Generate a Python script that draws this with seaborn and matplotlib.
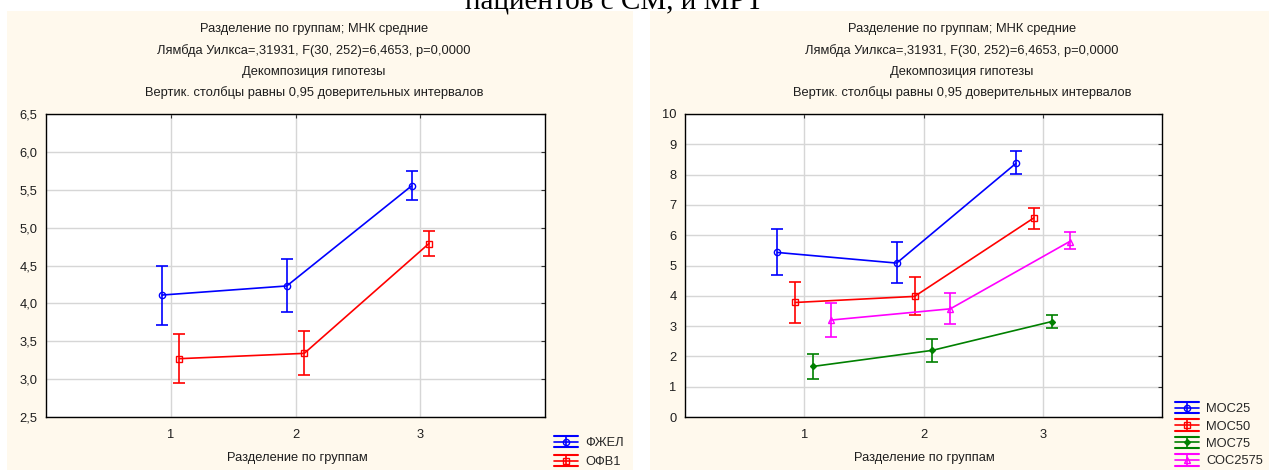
import numpy as np
import pandas as pd
import matplotlib
matplotlib.use("Agg")
import matplotlib.pyplot as plt
from matplotlib.legend_handler import HandlerBase
from matplotlib.lines import Line2D
from matplotlib.patches import Rectangle
import seaborn as sns

# ---- data ----
groups = [1, 2, 3]

left_series = ["ФЖЕЛ", "ОФВ1"]
fzhel_mean = [4.11, 4.23, 5.55]
fzhel_lo = [3.72, 3.88, 5.36]
fzhel_hi = [4.50, 4.59, 5.75]
ofv1_mean = [3.27, 3.34, 4.79]
ofv1_lo = [2.95, 3.06, 4.63]
ofv1_hi = [3.60, 3.64, 4.95]

right_series = ["МОС25", "МОС50", "МОС75", "СОС2575"]
mos25_mean = [5.43, 5.08, 8.37]
mos25_lo = [4.68, 4.41, 8.01]
mos25_hi = [6.22, 5.79, 8.77]
mos50_mean = [3.78, 3.98, 6.57]
mos50_lo = [3.09, 3.37, 6.21]
mos50_hi = [4.46, 4.62, 6.90]
mos75_mean = [1.67, 2.20, 3.15]
mos75_lo = [1.26, 1.82, 2.95]
mos75_hi = [2.09, 2.57, 3.36]
sos_mean = [3.20, 3.57, 5.79]
sos_lo = [2.63, 3.07, 5.53]
sos_hi = [3.76, 4.10, 6.09]

left_yticks = [2.5, 3.0, 3.5, 4.0, 4.5, 5.0, 5.5, 6.0, 6.5]
left_yticklabels = ["2,5", "3,0", "3,5", "4,0", "4,5", "5,0", "5,5", "6,0", "6,5"]
right_yticks = list(range(0, 11))

title_lines = [
    "Разделение по группам; МНК средние",
    "Лямбда Уилкса=,31931, F(30, 252)=6,4653, p=0,0000",
    "Декомпозиция гипотезы",
    "Вертик. столбцы равны 0,95 доверительных интервалов",
]
xlabel = "Разделение по группам"
page_text = "пациентов с СМ, и МРТ"

FS = 9.3
TXT = "#1e1e1e"


def make_frame(names, means, los, his):
    rows = []
    for name, m, lo, hi in zip(names, means, los, his):
        for g, mv, l, h in zip(groups, m, lo, hi):
            rows.append({"series": name, "group": g, "mean": mv, "lo": l, "hi": h})
    return pd.DataFrame(rows)


left_df = make_frame(left_series,
                     [fzhel_mean, ofv1_mean],
                     [fzhel_lo, ofv1_lo],
                     [fzhel_hi, ofv1_hi])
right_df = make_frame(right_series,
                      [mos25_mean, mos50_mean, mos75_mean, sos_mean],
                      [mos25_lo, mos50_lo, mos75_lo, sos_lo],
                      [mos25_hi, mos50_hi, mos75_hi, sos_hi])

styles = {
    "ФЖЕЛ": dict(color="#0000ff", marker="o", filled=False, ms=4.5),
    "ОФВ1": dict(color="#ff0000", marker="s", filled=False, ms=4.5),
    "МОС25": dict(color="#0000ff", marker="o", filled=False, ms=4.5),
    "МОС50": dict(color="#ff0000", marker="s", filled=False, ms=4.5),
    "МОС75": dict(color="#008000", marker="D", filled=True, ms=3),
    "СОС2575": dict(color="#ff00ff", marker="^", filled=False, ms=4.5),
}


class HandlerWhisker(HandlerBase):
    # Statistica-style legend key: line + whisker with caps
    def create_artists(self, legend, orig_handle, xdescent, ydescent,
                       width, height, fontsize, trans):
        c = orig_handle.get_color()
        x0, x1 = -xdescent, -xdescent + width
        yc = -ydescent + height / 2
        half = height * 0.62
        xm = (x0 + x1) / 2
        arts = [
            Line2D([x0, x1], [yc, yc], color=c, lw=1.2),
            Line2D([x0, x1], [yc + half, yc + half], color=c, lw=1.5),
            Line2D([x0, x1], [yc - half, yc - half], color=c, lw=1.5),
            Line2D([xm, xm], [yc - half, yc + half], color=c, lw=1.2),
            Line2D([xm], [yc], marker=orig_handle.get_marker(), color=c,
                   mfc=orig_handle.get_markerfacecolor(), mec=c,
                   ms=orig_handle.get_markersize(), mew=1.0),
        ]
        for a in arts:
            a.set_transform(trans)
        return arts


def draw_panel(ax, df, names, offsets, yticks, yticklabels, ylim):
    handles = []
    for name, off in zip(names, offsets):
        st = styles[name]
        sub = df[df["series"] == name].copy()
        sub["xpos"] = sub["group"] + off
        mfc = st["color"] if st["filled"] else "none"
        sns.lineplot(data=sub, x="xpos", y="mean", color=st["color"],
                     marker=st["marker"], mfc=mfc, mec=st["color"],
                     ms=st["ms"], mew=1.0, lw=1.2, ax=ax, zorder=3)
        ax.errorbar(sub["xpos"], sub["mean"],
                    yerr=[sub["mean"] - sub["lo"], sub["hi"] - sub["mean"]],
                    fmt="none", ecolor=st["color"], elinewidth=1.2,
                    capsize=4.3, capthick=1.2, zorder=3)
        handles.append(Line2D([], [], color=st["color"], marker=st["marker"],
                              mfc=mfc, ms=st["ms"], label=name))
    ax.set_xlim(0, 4)
    ax.set_ylim(*ylim)
    ax.set_xticks(groups)
    ax.set_xticklabels([str(g) for g in groups])
    ax.set_yticks(yticks)
    ax.set_yticklabels(yticklabels)
    ax.set_facecolor("white")
    ax.grid(True, color="#d6d6d6", lw=1.0)
    ax.set_axisbelow(True)
    for sp in ax.spines.values():
        sp.set_visible(True)
        sp.set_color("black")
        sp.set_linewidth(1.0)
    ax.tick_params(axis="both", labelsize=FS, colors=TXT, direction="in",
                   length=3, color="#333333")
    ax.tick_params(axis="x", top=True, pad=9)
    ax.tick_params(axis="y", right=True, pad=6)
    ax.set_xlabel("")
    ax.set_ylabel("")
    return handles


sns.set_style("white")
plt.rcParams["font.family"] = ["Liberation Sans", "DejaVu Sans"]

W, H = 1269, 470
fig = plt.figure(figsize=(W / 100, H / 100), dpi=100)
fig.patch.set_facecolor("white")

# panel backgrounds
fig.patches.append(Rectangle((7 / W, 0), 626 / W, 459 / H, transform=fig.transFigure,
                             facecolor="#fff9ed", edgecolor="none", zorder=-5))
fig.patches.append(Rectangle((650 / W, 0), 619 / W, 459 / H, transform=fig.transFigure,
                             facecolor="#fff9ed", edgecolor="none", zorder=-5))

fig.text(614 / W, 1 - 9 / H, page_text, family="Liberation Serif", fontsize=21,
         ha="center", va="baseline", color="black")

ax1 = fig.add_axes([46 / W, 53 / H, 499 / W, 303 / H], zorder=2)
ax2 = fig.add_axes([685 / W, 53 / H, 477 / W, 303 / H], zorder=2)

h1 = draw_panel(ax1, left_df, left_series, [-0.07, 0.07],
                left_yticks, left_yticklabels, (2.5, 6.5))
h2 = draw_panel(ax2, right_df, right_series, [-0.225, -0.075, 0.075, 0.225],
                right_yticks, [str(v) for v in right_yticks], (0, 10))

for cx in (314, 962):
    for i, line in enumerate(title_lines):
        fig.text(cx / W, 1 - (29 + i * 21.3) / H, line, fontsize=FS,
                 ha="center", va="center", color=TXT)

fig.text(297 / W, 1 - 458 / H, xlabel, fontsize=FS, ha="center", va="center",
         color=TXT)
fig.text(924 / W, 1 - 458 / H, xlabel, fontsize=FS, ha="center", va="center",
         color=TXT)

fig.legend(handles=h1, labels=left_series, loc="upper left",
           bbox_to_anchor=(554 / W, 1 - 437 / H), frameon=False, fontsize=FS,
           handlelength=1.85, handletextpad=0.55, labelspacing=0.56,
           borderaxespad=0, borderpad=0,
           handler_map={Line2D: HandlerWhisker()})
fig.legend(handles=h2, labels=right_series, loc="upper left",
           bbox_to_anchor=(1175 / W, 1 - 403 / H), frameon=False, fontsize=FS,
           handlelength=1.85, handletextpad=0.55, labelspacing=0.42,
           borderaxespad=0, borderpad=0,
           handler_map={Line2D: HandlerWhisker()})

fig.savefig("out.png", dpi=100, facecolor=fig.get_facecolor())
